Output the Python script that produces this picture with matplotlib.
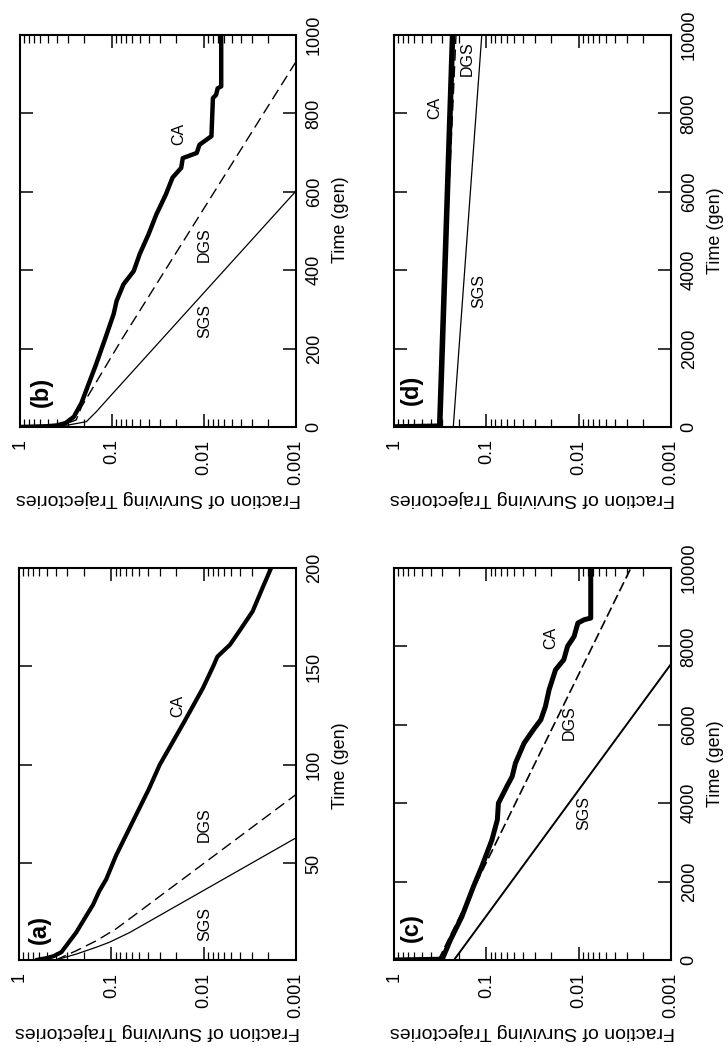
import matplotlib.pyplot as plt
from matplotlib.ticker import LogLocator, NullFormatter

plt.rcParams['font.family'] = ['Liberation Sans', 'DejaVu Sans']

# the whole figure is turned a quarter turn: fraction runs across, time runs up

# panel (a)
a_ca_t = [1, 2, 3, 5, 15, 22, 29, 36, 42, 54, 71, 88, 100, 122, 139, 150, 155, 161, 168, 178, 190, 200]
a_ca_f = [0.65, 0.5, 0.42, 0.347, 0.24, 0.195, 0.158, 0.135, 0.1135, 0.089, 0.059, 0.039, 0.030,
          0.0162, 0.0102, 0.0079, 0.0071, 0.0052, 0.0041, 0.00295, 0.0023, 0.00186]
a_dgs_t = [1, 5.7, 10.8, 16.8, 22, 85]
a_dgs_f = [0.40, 0.24, 0.145, 0.089, 0.063, 0.001]
a_sgs_t = [1, 4, 7.5, 10, 15, 63]
a_sgs_f = [0.40, 0.24, 0.145, 0.105, 0.063, 0.001]

# panel (b)
b_ca_t = [0, 1, 2, 4, 10, 26, 61, 112, 158, 222, 288, 322, 364, 398, 441, 492, 542, 593, 636,
          661, 686, 699, 720, 742, 839, 847, 864, 869, 1000]
b_ca_f = [1.0, 0.7, 0.5, 0.4, 0.32, 0.26, 0.215, 0.178, 0.15, 0.12, 0.096, 0.089, 0.075, 0.058,
          0.050, 0.040, 0.033, 0.026, 0.022, 0.0177, 0.017, 0.012, 0.0112, 0.0083, 0.0080, 0.0074,
          0.0071, 0.0065, 0.0065]
b_dgs_t = [0, 2, 5, 18, 52, 222, 932]
b_dgs_f = [1.0, 0.5, 0.35, 0.245, 0.214, 0.079, 0.001]
b_sgs_t = [0, 2, 5, 13.5, 39, 77, 602]
b_sgs_f = [1.0, 0.5, 0.3, 0.19, 0.148, 0.106, 0.001]

# panel (c)
c_ca_t = [0, 20, 511, 1106, 1872, 2383, 3064, 3574, 4000, 4426, 4681, 5021, 5532, 5872, 6128,
          6468, 6894, 7404, 7660, 8000, 8255, 8596, 8681, 8723, 10000]
c_ca_f = [1.0, 0.30, 0.245, 0.184, 0.138, 0.112, 0.087, 0.076, 0.074, 0.060, 0.0525, 0.0484,
          0.039, 0.031, 0.0257, 0.0229, 0.0209, 0.0178, 0.0145, 0.0132, 0.0112, 0.0102, 0.0087,
          0.0074, 0.0074]
c_dgs_t = [0, 10000]
c_dgs_f = [0.33, 0.00272]
c_sgs_t = [0, 7550]
c_sgs_f = [0.224, 0.001]

# panel (d)
d_ca_t = [0, 20, 10000]
d_ca_f = [1.0, 0.32, 0.232]
d_dgs_t = [0, 10000]
d_dgs_f = [0.33, 0.213]
d_sgs_t = [0, 10000]
d_sgs_f = [0.228, 0.112]

W, H = 728, 1046
fig = plt.figure(figsize=(W / 100, H / 100), dpi=100)


def make_axes(x0, y0, x1, y1):
    return fig.add_axes([x0 / W, 1 - y1 / H, (x1 - x0) / W, (y1 - y0) / H])


def draw_panel(ax, ca, dgs, sgs, tlim, tticks, tag, tagpos, names, ylabel_y,
               ca_lw=3.2, sgs_lw=0.9, dgs_lw=1.0, dash=(8, 4)):
    ax.plot(sgs[1], sgs[0], color='black', lw=sgs_lw)
    ax.plot(dgs[1], dgs[0], color='black', lw=dgs_lw, dashes=dash)
    ax.plot(ca[1], ca[0], color='black', lw=ca_lw, solid_capstyle='round',
            solid_joinstyle='round')

    ax.set_xscale('log')
    ax.set_xlim(1, 0.001)
    ax.set_xticks([1, 0.1, 0.01, 0.001])
    ax.set_xticklabels(['1', '0.1', '0.01', '0.001'])
    ax.xaxis.set_minor_locator(LogLocator(subs=range(2, 10)))
    ax.xaxis.set_minor_formatter(NullFormatter())
    ax.set_ylim(*tlim)
    ax.set_yticks(tticks)

    ax.tick_params(which='both', direction='in', top=True, bottom=True, left=True, right=True,
                   labelleft=False, labelright=True, labelsize=13)
    ax.tick_params(which='major', length=9.5, width=1.1)
    ax.tick_params(which='minor', length=5.5, width=0.9)
    ax.tick_params(axis='x', labelrotation=90, pad=9)
    ax.tick_params(axis='y', labelrotation=90, pad=7)
    for lbl in ax.get_yticklabels():
        lbl.set_va('center')
    for s in ax.spines.values():
        s.set_linewidth(1.5)

    ax.set_xlabel('Fraction of Surviving Trajectories', rotation=180, fontsize=14, labelpad=4)
    ax.yaxis.set_label_position('right')
    ax.set_ylabel('Time (gen)', fontsize=13, labelpad=7)
    ax.yaxis.set_label_coords(1.13, ylabel_y)

    ax.text(tagpos[0], tagpos[1], tag, transform=ax.transAxes, rotation=90,
            fontsize=17, fontweight='bold', ha='center', va='center')
    for name, (f, t) in names.items():
        ax.text(f, t, name, rotation=90, fontsize=11.5, ha='center', va='center')


ax_b = make_axes(20, 35, 296, 427)
draw_panel(ax_b, (b_ca_t, b_ca_f), (b_dgs_t, b_dgs_f), (b_sgs_t, b_sgs_f),
           (0, 1000), [0, 200, 400, 600, 800, 1000], '(b)', (0.076, 0.089),
           {'CA': (0.0188, 748), 'DGS': (0.0099, 466), 'SGS': (0.0099, 271)}, 0.53)

ax_d = make_axes(394, 35, 671, 427)
draw_panel(ax_d, (d_ca_t, d_ca_f), (d_dgs_t, d_dgs_f), (d_sgs_t, d_sgs_f),
           (0, 10000), [0, 2000, 4000, 6000, 8000, 10000], '(d)', (0.064, 0.094),
           {'CA': (0.358, 8136), 'DGS': (0.16, 9400), 'SGS': (0.121, 3475)}, 0.5, ca_lw=4)

ax_a = make_axes(19, 568, 296, 960)
draw_panel(ax_a, (a_ca_t, a_ca_f), (a_dgs_t, a_dgs_f), (a_sgs_t, a_sgs_f),
           (1, 200), [50, 100, 150, 200], '(a)', (0.075, 0.077),
           {'CA': (0.019, 130), 'DGS': (0.0098, 69.5), 'SGS': (0.0098, 19.5)}, 0.495, ca_lw=3)

ax_c = make_axes(394, 568, 671, 960)
draw_panel(ax_c, (c_ca_t, c_ca_f), (c_dgs_t, c_dgs_f), (c_sgs_t, c_sgs_f),
           (0, 10000), [0, 2000, 4000, 6000, 8000, 10000], '(c)', (0.063, 0.082),
           {'CA': (0.020, 8213), 'DGS': (0.0127, 6043), 'SGS': (0.0087, 3745)}, 0.5,
           ca_lw=3.6, sgs_lw=1.4, dgs_lw=1.2, dash=(6, 2.5))

fig.savefig('out.png', dpi=100)
